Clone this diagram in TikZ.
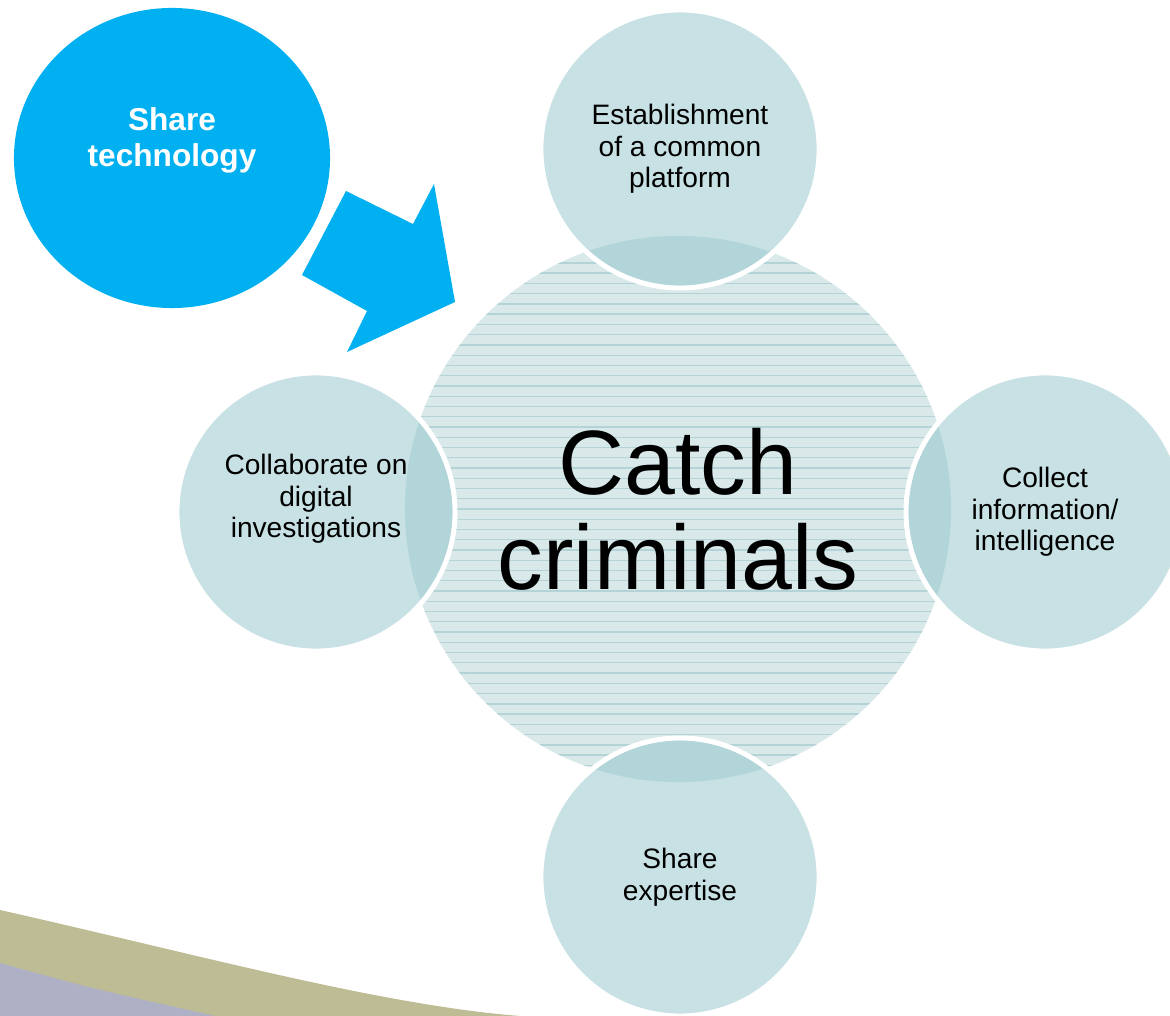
\documentclass[tikz,border=0pt]{standalone}
\usepackage{fontspec}
\setmainfont{Liberation Sans}
\usetikzlibrary{positioning,shapes.geometric}

\definecolor{sharecol}{RGB}{0,176,240}
\definecolor{spokecol}{RGB}{199,225,228}
\definecolor{overlapcol}{RGB}{178,213,217}
\definecolor{hubcol}{RGB}{217,232,233}
\definecolor{stripecol}{RGB}{180,211,215}
\definecolor{swooshol}{RGB}{190,188,148}
\definecolor{swooshlv}{RGB}{174,176,198}

\begin{document}
\begin{tikzpicture}[x=0.025cm, y=-0.025cm,
    hub/.style={circle, fill=hubcol, minimum size=13.65cm, inner sep=0pt,
      align=center, font=\fontsize{65}{67.5}\selectfont,
      path picture={
        \foreach \k in {-27,...,27}
          \draw[stripecol, line width=1pt]
            ([yshift=\k*0.25625cm]path picture bounding box.west) --
            ([yshift=\k*0.25625cm]path picture bounding box.east);}},
    spoke/.style={circle, fill=spokecol, draw=white, line width=3.5pt,
      minimum size=6.95cm, inner sep=0pt, align=center,
      font=\fontsize{20}{22.5}\selectfont,
      path picture={
        \clip (hub.center) circle (6.825cm);
        \fill[overlapcol] (path picture bounding box.center) circle (3.41cm);}},
    share/.style={ellipse, fill=sharecol, minimum width=7.9cm,
      minimum height=7.5cm, inner sep=0pt}]
  \useasboundingbox (0,0) rectangle (1170,1016);
  \clip (0,0) rectangle (1170,1016);

  % swoosh in the corner
  \fill[swooshol] (0,910) .. controls (200,955) and (380,1005) .. (520,1016) -- (0,1016) -- cycle;
  \fill[swooshlv] (0,963) .. controls (90,988) .. (215,1016) -- (0,1016) -- cycle;

  \node[hub] (hub) at (678,509) {Catch\\criminals};

  \node[spoke] (platform) at (680,149) {Establishment\\of a common\\platform};
  \node[spoke] (intel) at (1045,512) {Collect\\information/\\intelligence};
  \node[spoke] (expertise) at (680,877) {Share\\expertise};
  \node[spoke, label={[align=center, font=\fontsize{20}{22.5}\selectfont,
      yshift=0.33cm]center:Collaborate on\\digital\\investigations}]
    (digital) at (316,512) {};

  \node[share, label={[align=center, text=white,
      font=\fontsize{22.5}{25.5}\selectfont\bfseries,
      yshift=0.43cm]center:Share\\technology}] (tech) at (172,158) {};

  % block arrow into the hub
  \fill[sharecol] (346,191) -- (413,224) -- (434,184) -- (455,302)
    -- (347,352) -- (367,311) -- (302,275) -- cycle;
\end{tikzpicture}
\end{document}
